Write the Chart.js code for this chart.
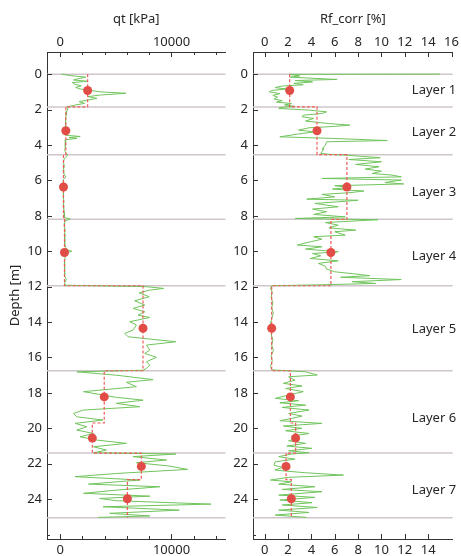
<!DOCTYPE html>
<html>
<head>
<meta charset="utf-8">
<script src="https://cdn.jsdelivr.net/npm/chart.js@4.4.1/dist/chart.umd.min.js"></script>
<style>
  body { margin: 0; background: #fff; }
  #wrap { position: relative; width: 461px; height: 556px; }
  canvas { position: absolute; top: 0; }
  #qtChart { left: 0; }
  #rfChart { left: 230px; }
</style>
</head>
<body>
<div id="wrap">
  <canvas id="qtChart" width="230" height="556"></canvas>
  <canvas id="rfChart" width="231" height="556"></canvas>
</div>
<script>
// Layer boundaries (m) and sub-layers used for the averaged values
const layerBounds = [0, 1.85, 4.55, 8.2, 11.95, 16.75, 21.4, 25.05];
const subBounds = [0, 1.85, 4.55, 8.2, 11.95, 16.75, 19.7, 21.4, 22.9, 25.05];
const qtMean = [2470, 510, 300, 390, 7440, 3960, 2890, 7290, 6040];
const rfMean = [2.14, 4.48, 7.04, 5.67, 0.6, 2.2, 2.65, 1.83, 2.28];
const layerNames = ['Layer 1', 'Layer 2', 'Layer 3', 'Layer 4', 'Layer 5', 'Layer 6', 'Layer 7'];
const layerLabelDepth = [0.9, 3.3, 6.7, 10.3, 14.4, 19.45, 23.5];

// Tick labels
const depthTicks = [0, 2, 4, 6, 8, 10, 12, 14, 16, 18, 20, 22, 24];
const qtTicks = [0, 10000];
const qtMinor = [2000, 4000, 6000, 8000, 12000, 14000];
const rfTopTicks = [0, 2, 4, 6, 8, 10, 12, 14, 16];
const rfBottomTicks = [0, 2, 4, 6, 8, 10, 12, 14];

// Cone resistance qt [kPa] against depth [m]
const qtDepth = [
  0.00, 0.08, 0.17, 0.25, 0.33, 0.40, 0.48, 0.57, 0.66, 0.75, 0.84, 0.92, 1.00, 1.08, 1.18, 1.27, 1.37, 1.45, 1.55, 1.65, 1.75, 1.85,
  1.95, 2.10, 2.30, 2.50, 2.70, 2.90, 3.10, 3.30, 3.45, 3.52, 3.58, 3.63, 3.70, 3.90, 4.10, 4.30, 4.45, 4.55,
  4.65, 4.80, 5.00, 5.20, 5.40, 5.60, 5.80, 5.95, 6.20, 6.40, 6.60, 6.80, 7.00, 7.20, 7.40, 7.60, 7.80, 8.00, 8.10, 8.18, 8.28,
  8.40, 8.60, 8.80, 9.00, 9.20, 9.40, 9.60, 9.80, 9.95, 10.00, 10.08, 10.20, 10.40, 10.60, 10.80, 11.00, 11.20, 11.40, 11.60, 11.80, 11.92,
  12.00, 12.10, 12.20, 12.35, 12.57, 12.80, 13.04, 13.23, 13.42, 13.61, 13.74, 13.98, 14.17, 14.45, 14.64, 14.83, 14.96, 15.11, 15.30, 15.58, 15.77, 15.99, 16.24, 16.43, 16.62, 16.72,
  16.81, 17.00, 17.25, 17.40, 17.65, 17.93, 18.12, 18.25, 18.41, 18.59, 18.78, 18.97, 19.16, 19.35, 19.53, 19.72, 19.91, 20.10, 20.29, 20.48, 20.66, 20.85, 21.04, 21.23, 21.38,
  21.45, 21.60, 21.79, 21.94, 22.13, 22.32, 22.55, 22.73, 22.92, 23.15, 23.30, 23.49, 23.67, 23.83, 23.96, 24.09, 24.28, 24.43, 24.62, 24.80, 24.95, 25.03
];
const qtValue = [
  100, 900, 2300, 1700, 1200, 2400, 1100, 1300, 1900, 1400, 1800, 2700, 3600, 5900, 3600, 2500, 3300, 2600, 1700, 2200, 1300, 600,
  700, 600, 550, 480, 520, 450, 500, 420, 480, 1800, 800, 1500, 500, 450, 480, 420, 500, 650,
  600, 350, 300, 380, 280, 320, 500, 300, 250, 280, 330, 260, 300, 350, 280, 320, 380, 350, 400, 900, 450,
  420, 380, 450, 400, 430, 380, 420, 500, 700, 1050, 600, 400, 450, 380, 420, 400, 380, 420, 550, 400, 450,
  7700, 9300, 8000, 7100, 8000, 6700, 7600, 6550, 7600, 7000, 8050, 6250, 6850, 6550, 5800, 6100, 8050, 10400, 7750, 8050, 7600, 8650, 7750, 8050, 7750, 7450,
  1500, 5050, 8350, 5950, 6850, 2100, 3850, 5050, 7450, 5050, 7150, 2100, 1200, 1500, 3850, 1350, 2400, 1500, 3000, 1800, 3250, 5950, 3000, 4150, 3000,
  10400, 6550, 9550, 6850, 9800, 11450, 5050, 1350, 7150, 2550, 8950, 5050, 2100, 8050, 3550, 5050, 13550, 3850, 10700, 4450, 8050, 3400
];

// Corrected friction ratio Rf_corr [%] against depth [m]
const rfDepth = [
  0.00, 0.01, 0.10, 0.17, 0.24, 0.30, 0.36, 0.44, 0.52, 0.60, 0.68, 0.76, 0.84, 0.92, 1.00, 1.10, 1.20, 1.30, 1.40, 1.50, 1.58, 1.66, 1.74, 1.82, 1.88,
  1.94, 2.03, 2.13, 2.22, 2.32, 2.41, 2.50, 2.65, 2.79, 2.88, 2.95, 3.03, 3.16, 3.26, 3.35, 3.44, 3.54, 3.63, 3.75, 3.82, 4.01, 4.16, 4.29, 4.48, 4.54,
  4.57, 4.72, 4.82, 4.95, 5.10, 5.23, 5.36, 5.48, 5.61, 5.70, 5.80, 5.89, 5.98, 6.12, 6.20, 6.30, 6.40, 6.49, 6.60, 6.70, 6.79, 6.93, 7.06, 7.12, 7.21, 7.30, 7.49, 7.62, 7.77, 7.92, 8.06, 8.15, 8.22,
  8.38, 8.53, 8.68, 8.81, 8.90, 9.09, 9.18, 9.32, 9.47, 9.65, 9.75, 9.88, 10.03, 10.13, 10.26, 10.41, 10.54, 10.69, 10.84, 11.01, 11.16, 11.28, 11.38, 11.47, 11.60, 11.72, 11.82, 11.90, 11.95,
  12.10, 12.30, 12.60, 12.90, 13.20, 13.50, 13.80, 14.10, 14.40, 14.70, 15.00, 15.30, 15.60, 15.90, 16.20, 16.50, 16.70,
  16.81, 16.99, 17.09, 17.28, 17.46, 17.61, 17.75, 17.93, 18.12, 18.31, 18.44, 18.56, 18.69, 18.82, 18.97, 19.16, 19.31, 19.44, 19.57, 19.72, 19.87, 20.00, 20.14, 20.29, 20.44, 20.57, 20.70, 20.85, 21.00, 21.13, 21.27, 21.38,
  21.45, 21.60, 21.74, 21.89, 22.08, 22.21, 22.36, 22.51, 22.64, 22.77, 22.92, 23.02, 23.15, 23.30, 23.45, 23.58, 23.77, 23.90, 24.05, 24.20, 24.33, 24.47, 24.62, 24.75, 24.90, 25.03
];
const rfValue = [
  15.0, 2.1, 3.0, 2.2, 4.3, 6.2, 2.6, 4.1, 2.5, 3.3, 1.4, 0.9, 1.9, 0.6, 0.4, 1.3, 0.7, 1.1, 0.8, 1.5, 1.0, 2.3, 1.7, 2.6, 1.3,
  1.2, 3.8, 5.3, 4.9, 3.3, 3.2, 4.2, 3.5, 5.5, 7.3, 6.0, 3.8, 2.9, 4.3, 3.2, 2.3, 1.3, 5.8, 10.5, 5.3, 5.2, 5.0, 5.0, 4.8, 5.8,
  6.9, 9.9, 7.2, 10.0, 7.8, 9.8, 8.6, 10.0, 9.2, 10.9, 11.7, 4.9, 11.7, 10.3, 11.9, 6.0, 7.2, 5.8, 8.5, 7.2, 4.9, 6.0, 3.6, 8.0, 6.3, 4.3, 6.3, 4.1, 5.3, 4.2, 6.9, 2.6, 9.7,
  5.2, 6.3, 5.5, 7.8, 6.0, 6.9, 4.2, 4.9, 3.9, 2.8, 4.9, 3.5, 6.3, 4.1, 4.8, 3.9, 6.3, 4.6, 5.2, 5.3, 6.0, 7.7, 9.0, 6.5, 11.7, 7.5, 9.5, 4.5, 0.6,
  0.5, 0.65, 0.55, 0.7, 0.6, 0.75, 0.6, 0.5, 0.65, 0.55, 0.7, 0.6, 0.75, 0.55, 0.65, 0.5, 0.6,
  3.5, 4.5, 2.05, 2.6, 1.6, 3.2, 1.8, 3.3, 2.05, 0.9, 2.9, 1.3, 3.5, 1.5, 3.8, 2.05, 3.2, 2.3, 1.3, 4.9, 1.6, 3.2, 1.8, 3.8, 2.3, 2.9, 2.05, 3.5, 1.9, 4.05, 2.05, 3.8,
  2.3, 1.2, 2.6, 0.9, 0.8, 1.5, 0.9, 3.5, 6.75, 2.05, 0.5, 2.3, 1.2, 4.3, 1.5, 4.9, 1.2, 4.3, 1.3, 4.05, 1.5, 4.5, 1.2, 3.8, 0.9, 3.6
];

const FONT = 'Noto Sans';
const TEXT = '#262626';
const AXIS = '#333';

function pairs(depths, values) {
  return depths.map((d, i) => ({ x: values[i], y: d }));
}
function stepLine(means) {
  const pts = [];
  means.forEach((m, i) => {
    pts.push({ x: m, y: subBounds[i] });
    pts.push({ x: m, y: subBounds[i + 1] });
  });
  return pts;
}
function meanDots(means) {
  return means.map((m, i) => ({ x: m, y: (subBounds[i] + subBounds[i + 1]) / 2 }));
}

// Layer boundary lines, inward tick marks and layer names
const depthDecor = {
  id: 'depthDecor',
  beforeDatasetsDraw(chart) {
    const ctx = chart.ctx, a = chart.chartArea, ys = chart.scales.y;
    ctx.save();
    ctx.strokeStyle = 'rgb(208,198,201)';
    ctx.lineWidth = 1.5;
    layerBounds.forEach(b => {
      const p = ys.getPixelForValue(b);
      ctx.beginPath();
      ctx.moveTo(a.left, p);
      ctx.lineTo(a.right, p);
      ctx.stroke();
    });
    ctx.restore();
  },
  afterDraw(chart, args, opts) {
    const ctx = chart.ctx, a = chart.chartArea;
    ctx.save();
    ctx.strokeStyle = AXIS;
    ctx.lineWidth = 1;
    Object.keys(chart.scales).forEach(id => {
      const s = chart.scales[id];
      const minor = (opts.minor && opts.minor[id]) || [];
      const marks = s.ticks.map(t => [t.value, 5]).concat(minor.map(v => [v, 3]));
      marks.forEach(([v, len]) => {
        const p = Math.round(s.getPixelForValue(v)) + 0.5;
        ctx.beginPath();
        if (s.position === 'top') { ctx.moveTo(p, a.top); ctx.lineTo(p, a.top + len); }
        else if (s.position === 'bottom') { ctx.moveTo(p, a.bottom); ctx.lineTo(p, a.bottom - len); }
        else { ctx.moveTo(a.left, p); ctx.lineTo(a.left + len, p); }
        ctx.stroke();
      });
    });
    if (opts.labels) {
      const xs = chart.scales.x, ys = chart.scales.y;
      ctx.fillStyle = TEXT;
      ctx.font = '13px "' + FONT + '"';
      ctx.textAlign = 'left';
      ctx.textBaseline = 'middle';
      layerNames.forEach((name, i) => {
        ctx.fillText(name, xs.getPixelForValue(opts.labelX), ys.getPixelForValue(layerLabelDepth[i]));
      });
    }
    ctx.restore();
  }
};

function makeChart(canvasId, values, depths, means, cfg) {
  const tickFont = { family: FONT, size: 13 };
  const fixTicks = list => axis => { axis.ticks = list.map(v => ({ value: v })); };
  const noGrid = { display: false, drawTicks: false, tickLength: 0 };
  return new Chart(document.getElementById(canvasId), {
    type: 'scatter',
    data: {
      datasets: [{
        data: meanDots(means),
        pointRadius: 4.5,
        pointBackgroundColor: 'rgb(226,76,70)',
        pointBorderWidth: 0,
        showLine: false
      }, {
        data: stepLine(means),
        showLine: true,
        pointRadius: 0,
        borderColor: 'rgb(236,92,88)',
        borderWidth: 1.2,
        borderDash: [3, 2]
      }, {
        data: pairs(depths, values),
        showLine: true,
        pointRadius: 0,
        borderColor: 'rgb(112,196,92)',
        borderWidth: 1
      }]
    },
    options: {
      responsive: false,
      animation: false,
      layout: { padding: { left: 0, top: 0, right: cfg.padRight, bottom: 0 } },
      plugins: {
        legend: { display: false },
        tooltip: { enabled: false },
        depthDecor: { minor: cfg.minor, labels: cfg.labels, labelX: cfg.labelX }
      },
      scales: {
        x: {
          position: 'top',
          min: cfg.xMin, max: cfg.xMax,
          afterBuildTicks: fixTicks(cfg.topTicks),
          afterFit: s => { s.height = 52; },
          grid: noGrid,
          border: { display: true, color: AXIS, width: 1 },
          ticks: { font: tickFont, color: TEXT, padding: 2, maxRotation: 0, callback: v => String(v) },
          title: { display: true, text: cfg.title, font: { family: FONT, size: 13 }, color: TEXT, padding: { top: 11 } }
        },
        x2: {
          position: 'bottom',
          axis: 'x',
          type: 'linear',
          min: cfg.xMin, max: cfg.xMax,
          afterBuildTicks: fixTicks(cfg.bottomTicks),
          afterFit: s => { s.height = 17; },
          grid: noGrid,
          border: { display: true, color: AXIS, width: 1 },
          ticks: { font: tickFont, color: TEXT, padding: 3, maxRotation: 0, callback: v => String(v) }
        },
        y: {
          position: 'left',
          reverse: true,
          min: -1.25, max: 26.25,
          afterBuildTicks: fixTicks(depthTicks),
          afterFit: s => { s.width = cfg.yWidth; },
          grid: noGrid,
          border: { display: true, color: AXIS, width: 1 },
          ticks: { font: { family: FONT, size: 13 }, color: TEXT, padding: 5, callback: v => String(v) },
          title: { display: cfg.yTitle, text: 'Depth [m]', font: { family: FONT, size: 13 }, color: TEXT, padding: { top: 7 } }
        }
      }
    },
    plugins: [depthDecor]
  });
}

makeChart('qtChart', qtValue, qtDepth, qtMean, {
  title: 'qt [kPa]', xMin: -1180, xMax: 14850,
  topTicks: qtTicks, bottomTicks: qtTicks,
  minor: { x: qtMinor, x2: qtMinor, y: [26] },
  yWidth: 47, yTitle: true, padRight: 3, labels: false
});

makeChart('rfChart', rfValue, rfDepth, rfMean, {
  title: 'Rf_corr [%]', xMin: -1, xMax: 16.1,
  topTicks: rfTopTicks, bottomTicks: rfBottomTicks,
  minor: { y: [26] },
  yWidth: 23, yTitle: false, padRight: 8, labels: true, labelX: 12.6
});
</script>
</body>
</html>
